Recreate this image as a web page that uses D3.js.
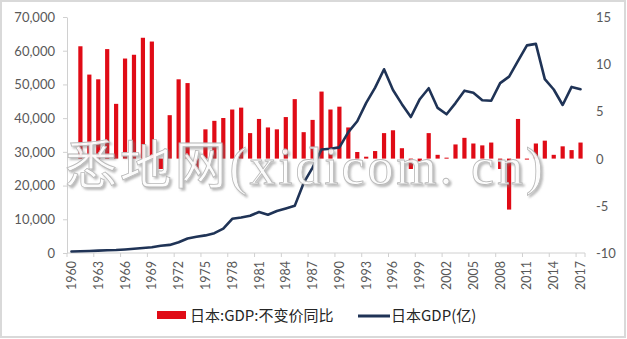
<!DOCTYPE html>
<html>
<head>
<meta charset="utf-8">
<script src="https://cdn.jsdelivr.net/npm/d3@7"></script>
<style>
  html, body { margin: 0; padding: 0; background: #fff; }
  svg { display: block; }
  .tick-label { font-family: Lato, "Liberation Sans", "Noto Sans", sans-serif; fill: #595959; }
  .legend-text { font-family: "Noto Sans CJK SC", "Noto Sans", sans-serif; fill: #262626; }
</style>
</head>
<body>
<svg id="chart" width="627" height="339"></svg>
<script>
// Years on the category axis
const years = [
  1960, 1961, 1962, 1963, 1964, 1965, 1966, 1967, 1968, 1969,
  1970, 1971, 1972, 1973, 1974, 1975, 1976, 1977, 1978, 1979,
  1980, 1981, 1982, 1983, 1984, 1985, 1986, 1987, 1988, 1989,
  1990, 1991, 1992, 1993, 1994, 1995, 1996, 1997, 1998, 1999,
  2000, 2001, 2002, 2003, 2004, 2005, 2006, 2007, 2008, 2009,
  2010, 2011, 2012, 2013, 2014, 2015, 2016, 2017
];

// 日本:GDP:不变价同比 (%), right axis
const gdpGrowth = [
  null, 11.9, 8.9, 8.4, 11.6, 5.8, 10.6, 11.0, 12.8, 12.4,
  -1.1, 4.6, 8.4, 8.0, -1.2, 3.1, 4.0, 4.3, 5.2, 5.4,
  2.7, 4.2, 3.3, 3.1, 4.4, 6.3, 2.8, 4.1, 7.1, 5.2,
  5.5, 3.3, 0.7, 0.2, 0.8, 2.7, 3.0, 1.1, -1.1, -0.3,
  2.7, 0.4, 0.1, 1.5, 2.2, 1.6, 1.4, 1.7, -1.1, -5.4,
  4.2, -0.1, 1.6, 1.9, 0.4, 1.3, 0.9, 1.7
];

// 日本GDP (亿), left axis
const gdp = [
  450, 540, 610, 700, 820, 910, 1060, 1240, 1470, 1720,
  2130, 2400, 3180, 4320, 4800, 5220, 5870, 7210, 10140, 10550,
  11050, 12180, 11350, 12440, 13190, 13980, 20790, 25330, 30720, 30920,
  31330, 35850, 39090, 44540, 49070, 54490, 48340, 44150, 40330, 45620,
  48880, 43030, 41150, 44460, 48150, 47550, 45300, 45150, 50380, 52310,
  57000, 61580, 62030, 51560, 48500, 43900, 49270, 48600
];

// Tick labels
const leftTicks = [0, 10000, 20000, 30000, 40000, 50000, 60000, 70000];
const rightTicks = [-10, -5, 0, 5, 10, 15];
const yearLabels = [1960, 1963, 1966, 1969, 1972, 1975, 1978, 1981, 1984, 1987,
  1990, 1993, 1996, 1999, 2002, 2005, 2008, 2011, 2014, 2017];

const legendBar = "日本:GDP:不变价同比";
const legendLine = "日本GDP(亿)";
const watermark = "悉地网(xidicom. cn)";

const svg = d3.select("#chart");
const W = 627, H = 339;
const plot = { left: 67, right: 585, top: 17, bottom: 253 };
const barColor = "#e00b16";
const lineColor = "#1f3356";
const axisColor = "#d0d0d0";

// Outer frame
svg.append("rect")
  .attr("x", 1).attr("y", 1).attr("width", W - 3).attr("height", H - 3)
  .attr("fill", "#fff").attr("stroke", "#d9d9d9").attr("stroke-width", 2);

const x = d3.scaleBand().domain(years).range([plot.left, plot.right]).padding(0);
const yL = d3.scaleLinear().domain([0, 70000]).range([plot.bottom, plot.top]);
const yR = d3.scaleLinear().domain([-10, 15]).range([plot.bottom, plot.top]);

// Left axis
const leftAxis = svg.append("g")
  .attr("transform", `translate(${plot.left},0)`)
  .call(d3.axisLeft(yL).tickValues(leftTicks).tickSize(4).tickSizeOuter(0)
    .tickFormat(d3.format(",")));
leftAxis.select(".domain").attr("stroke", axisColor);
leftAxis.selectAll(".tick line").attr("stroke", axisColor);
leftAxis.selectAll(".tick text").attr("class", "tick-label")
  .attr("font-size", 13).attr("x", -12).attr("dy", "0.34em");

// Right axis (labels only)
const rightAxis = svg.append("g")
  .attr("transform", `translate(${plot.right},0)`)
  .call(d3.axisRight(yR).tickValues(rightTicks).tickSize(0).tickFormat(d3.format("d")));
rightAxis.select(".domain").remove();
rightAxis.selectAll(".tick text").attr("class", "tick-label")
  .attr("font-size", 13).attr("x", 11).attr("dy", "0.34em")
  .text(d => d < 0 ? "-" + Math.abs(d) : d);

// Bottom axis
const bottom = svg.append("g").attr("transform", `translate(0,${plot.bottom})`);
bottom.append("line")
  .attr("x1", plot.left).attr("x2", plot.right).attr("y1", 0).attr("y2", 0)
  .attr("stroke", axisColor);
bottom.selectAll("line.tk").data(yearLabels).join("line").attr("class", "tk")
  .attr("x1", d => x(d)).attr("x2", d => x(d)).attr("y1", 0).attr("y2", 4)
  .attr("stroke", axisColor);
bottom.append("line")
  .attr("x1", plot.right).attr("x2", plot.right).attr("y1", 0).attr("y2", 4)
  .attr("stroke", axisColor);
bottom.selectAll("text").data(yearLabels).join("text")
  .attr("class", "tick-label")
  .attr("font-size", 12.5)
  .attr("text-anchor", "end")
  .attr("transform", d => `translate(${x(d) + x.bandwidth() / 2 + 4.5},8) rotate(-90)`)
  .text(d => d);

// Growth bars
const barW = x.bandwidth() * 0.47;
const barData = years.map((yr, i) => ({ yr, v: gdpGrowth[i] })).filter(d => d.v !== null);
svg.append("g").selectAll("rect").data(barData).join("rect")
  .attr("x", d => x(d.yr) + (x.bandwidth() - barW) / 2)
  .attr("y", d => yR(Math.max(0, d.v)))
  .attr("width", barW)
  .attr("height", d => Math.max(1, Math.abs(yR(d.v) - yR(0))))
  .attr("fill", barColor);

// GDP line
const line = d3.line()
  .x((d, i) => x(years[i]) + x.bandwidth() / 2)
  .y(d => yL(d));
svg.append("path").datum(gdp)
  .attr("d", line)
  .attr("fill", "none")
  .attr("stroke", lineColor)
  .attr("stroke-width", 2.6)
  .attr("stroke-linejoin", "round")
  .attr("stroke-linecap", "round");

// Legend
const lg = svg.append("g");
lg.append("rect").attr("x", 157).attr("y", 311).attr("width", 29).attr("height", 8).attr("fill", barColor);
lg.append("text").attr("class", "legend-text").attr("x", 190).attr("y", 321)
  .attr("font-size", 15).text(legendBar);
lg.append("line").attr("x1", 358).attr("x2", 390).attr("y1", 316).attr("y2", 316)
  .attr("stroke", lineColor).attr("stroke-width", 3);
lg.append("text").attr("class", "legend-text").attr("x", 391).attr("y", 321)
  .attr("font-size", 15).text(legendLine);

// Site watermark over the plot
const defs = svg.append("defs");
const f = defs.append("filter").attr("id", "wm-shadow")
  .attr("x", "-5%").attr("y", "-20%").attr("width", "110%").attr("height", "140%");
f.append("feDropShadow").attr("dx", 2).attr("dy", 2).attr("stdDeviation", 1.2)
  .attr("flood-color", "#777").attr("flood-opacity", 0.55);
svg.append("text")
  .attr("x", 65).attr("y", 184)
  .attr("textLength", 478).attr("lengthAdjust", "spacing")
  .attr("font-family", "'Liberation Serif', 'Noto Sans CJK SC', serif")
  .attr("font-size", 52)
  .attr("fill", "#ffffff").attr("fill-opacity", 0.9)
  .attr("stroke", "#b8b8b8").attr("stroke-width", 0.8)
  .attr("filter", "url(#wm-shadow)")
  .text(watermark);
</script>
</body>
</html>
